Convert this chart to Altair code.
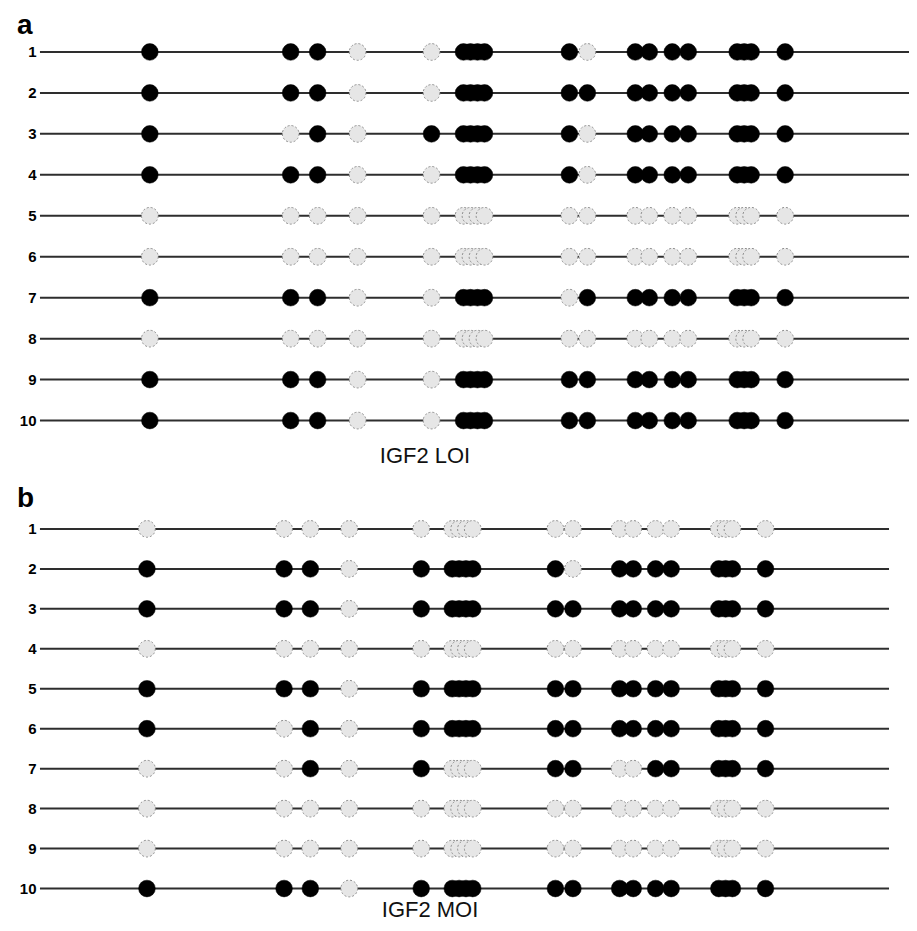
import altair as alt
import pandas as pd

# CpG site positions along the amplicon (same units for both panels)
SITES = [110, 251, 278, 318, 392, 424, 431, 438, 445, 530, 548,
         596, 610, 633, 649, 698, 705, 712, 746]
LINE_END = 873
ROWS = [str(i) for i in range(1, 11)]

# 1 = methylated (black), 0 = unmethylated (grey); one string per clone
LOI_PATTERNS = [
    "1110011111011111111",
    "1110011111111111111",
    "1010111111011111111",
    "1110011111011111111",
    "0000000000000000000",
    "0000000000000000000",
    "1110011110111111111",
    "0000000000000000000",
    "1110011111111111111",
    "1110011111111111111",
]
MOI_PATTERNS = [
    "0000000000000000000",
    "1110111111011111111",
    "1110111111111111111",
    "0000000000000000000",
    "1110111111111111111",
    "1010111111111111111",
    "0010100001100111111",
    "0000000000000000000",
    "0000000000000000000",
    "1110111111111111111",
]

FONT = "Liberation Sans"


def make_panel(patterns, letter, label, width, height, label_x, label_pad, title_offset):
    recs = []
    for r, pat in zip(ROWS, patterns):
        for s, m in zip(SITES, pat):
            recs.append({"row": r, "site": s, "meth": int(m)})
    pts = pd.DataFrame(recs)
    lines = pd.DataFrame({"row": ROWS, "x0": [0] * len(ROWS), "x1": [LINE_END] * len(ROWS)})

    xscale = alt.Scale(domain=[0, LINE_END], nice=False, zero=False)
    yenc = alt.Y(
        "row:O",
        sort=ROWS,
        scale=alt.Scale(type="point", padding=0.5),
        axis=alt.Axis(
            title=None, ticks=False, domain=False, labelFontSize=15,
            labelFontWeight="bold", labelPadding=4, labelColor="#000", labelFont=FONT,
        ),
    )
    xaxis = alt.Axis(
        labels=False, ticks=False, domain=False, grid=False,
        title=label, titleFontSize=22, titleFontWeight="normal", titleFont=FONT,
        titleColor="#111", titlePadding=label_pad, titleX=label_x, titleAlign="center",
    )

    rule = alt.Chart(lines).mark_rule(color="#2e2e2e", strokeWidth=2).encode(
        x=alt.X("x0:Q", scale=xscale, axis=xaxis), x2="x1:Q", y=yenc
    )
    grey = alt.Chart(pts[pts.meth == 0]).mark_point(
        shape="circle", filled=True, size=280, fill="#e6e6e6", stroke="#8c8c8c",
        strokeWidth=1, strokeDash=[2, 2], opacity=1,
    ).encode(x=alt.X("site:Q", scale=xscale), y=yenc)
    black = alt.Chart(pts[pts.meth == 1]).mark_point(
        shape="circle", filled=True, size=280, fill="#000", stroke="#000",
        strokeWidth=0.5, opacity=1,
    ).encode(x=alt.X("site:Q", scale=xscale), y=yenc)

    return alt.layer(rule, grey, black).properties(
        width=width, height=height,
        title=alt.TitleParams(
            letter, anchor="start", frame="group", dx=-23, fontSize=28,
            fontWeight="bold", font=FONT, color="#000", offset=title_offset,
        ),
    )


panel_a = make_panel(LOI_PATTERNS, "a", "IGF2 LOI", 873, 410, 385, 4, -9)
panel_b = make_panel(MOI_PATTERNS, "b", "IGF2 MOI", 850, 400, 390, -9, -4)

chart = (
    alt.vconcat(panel_a, panel_b, spacing=19)
    .properties(padding={"left": 9, "top": 4, "right": -4, "bottom": 0})
    .configure(font=FONT)
    .configure_view(strokeWidth=0)
)

chart.save("out.html", embed_options={"renderer": "svg", "actions": False})
